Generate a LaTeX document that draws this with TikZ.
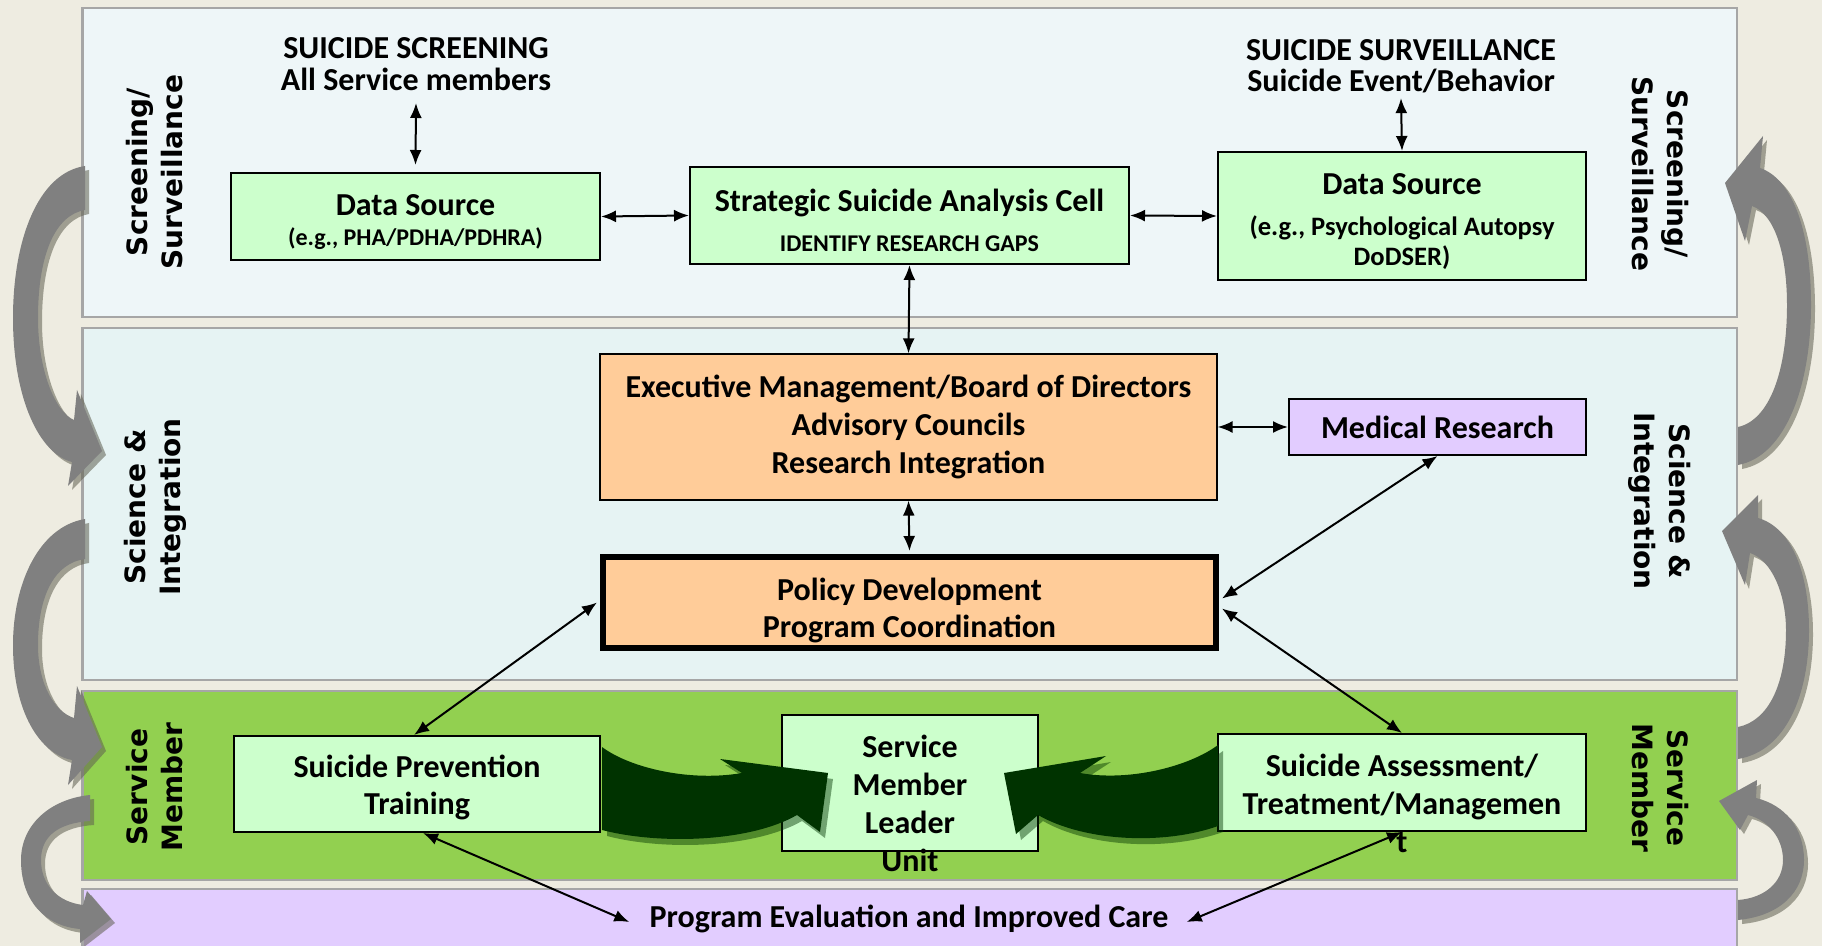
\documentclass[tikz,border=0pt]{standalone}
\usepackage{fontspec}
\setmainfont{Carlito}
\newfontfamily\sidefont{DejaVu Sans}
\usetikzlibrary{arrows.meta,calc}
\definecolor{bgc}{HTML}{EEECE1}
\definecolor{bandA}{HTML}{EEF6F8}
\definecolor{bandB}{HTML}{E6F3F3}
\definecolor{bandC}{HTML}{92D050}
\definecolor{bandD}{HTML}{E2CDFF}
\definecolor{bandline}{HTML}{A6A6A6}
\definecolor{boxgreen}{HTML}{CCFFCC}
\definecolor{boxorange}{HTML}{FFCC99}
\definecolor{boxpurple}{HTML}{E2CCFF}
\definecolor{darkgr}{HTML}{003300}
\definecolor{grayarr}{HTML}{808080}
\definecolor{grayshd}{HTML}{5F5F50}
\newcommand\tstrut[1]{\rule{0pt}{#1}}
\begin{document}
\begin{tikzpicture}[x=0.5pt,y=-0.5pt,
  every node/.style={font=\bfseries\fontsize{16}{19}\selectfont, inner sep=0pt},
  box/.style={draw=black, line width=1pt, align=center, inner sep=0pt},
  band/.style={draw=bandline, line width=1.2pt},
  dbl/.style={{Latex[length=7.5pt,width=6pt]}-{Latex[length=7.5pt,width=6pt]}, line width=1pt},
  side/.style={font=\sidefont\bfseries\fontsize{14}{17.5}\selectfont, align=center},
  grayarrow/.style={fill=grayarr},
  grayshadow/.style={fill=grayshd, fill opacity=0.55},
  greenarrow/.style={fill=darkgr},
  greenshadow/.style={fill=darkgr, fill opacity=0.45}
]
\useasboundingbox (0,0) rectangle (1822,946);
\clip (0,0) rectangle (1822,946);
\fill[bgc] (0,0) rectangle (1822,946);
% bands
\draw[band, fill=bandA] (82.5,8) rectangle (1737,317);
\draw[band, fill=bandB] (82.5,328) rectangle (1737,680);
\draw[band, fill=bandC] (82.5,691) rectangle (1737,880);
\draw[band, fill=bandD] (82.5,889) rectangle (1737,990);

% gray cycle arrows (shadow, then arrow)
\foreach \st/\sh in {grayshadow/4, grayarrow/0} {
\begin{scope}[shift={(\sh,\sh)}]
\path[\st] (85,166) .. controls (38,173) and (13,240) .. (13,318) .. controls (13,400) and (40,454) .. (72,462) -- (68,486) -- (102,451) -- (77,390) -- (74,420) .. controls (55,412) and (38,370) .. (38,318) .. controls (38,255) and (55,215) .. (85,210) -- cycle;
\path[\st] (85,519) .. controls (38,527) and (13,585) .. (13,645) .. controls (13,712) and (40,754) .. (72,760) -- (68,785) -- (102,747) -- (77,686) -- (74,718) .. controls (55,712) and (38,685) .. (38,645) .. controls (38,595) and (55,563) .. (85,559) -- cycle;
\path[\st] (90,795) .. controls (50,799) and (21,825) .. (21,860) .. controls (21,901) and (45,926) .. (80,929) -- (80,943) -- (111,919) -- (87,891) -- (83,905) .. controls (58,902) and (41,885) .. (41,860) .. controls (41,835) and (60,823) .. (90,821) -- cycle;
\path[\st] (1738,465) .. controls (1786,456) and (1811,385) .. (1811,305) .. controls (1811,225) and (1790,178) .. (1760,168) -- (1763,136) -- (1725,183) -- (1745,241) -- (1752,206) .. controls (1775,214) and (1787,255) .. (1787,305) .. controls (1787,370) and (1770,420) .. (1738,427) -- cycle;
\path[\st] (1738,759) .. controls (1786,751) and (1809,695) .. (1809,630) .. controls (1809,570) and (1790,527) .. (1758,518) -- (1758,495) -- (1722,531) -- (1745,585) -- (1750,553) .. controls (1772,560) and (1786,595) .. (1786,630) .. controls (1786,685) and (1768,721) .. (1738,727) -- cycle;
\path[\st] (1738,920) .. controls (1780,916) and (1804,892) .. (1804,860) .. controls (1804,828) and (1785,805) .. (1756,798) -- (1757,780) -- (1719,801) -- (1740,830) -- (1748,815) .. controls (1768,820) and (1783,838) .. (1783,860) .. controls (1783,882) and (1765,898) .. (1738,900) -- cycle;
\end{scope}
}

% side labels
\node[side, rotate=90] (lscr) at (155,172) {Screening/\\Surveillance};
\node[side, rotate=90] (lsci) at (155,507) {Science \&\\Integration};
\node[side, rotate=90] (lsm) at (155,787) {Service\\Member};
\node[side, rotate=-90] (rscr) at (1660,174) {Screening/\\Surveillance};
\node[side, rotate=-90] (rsci) at (1660,501) {Science \&\\Integration};
\node[side, rotate=-90] (rsm) at (1660,788) {Service\\Member};

% band 1
\node[align=center] (scrtext) at (416,64) {SUICIDE SCREENING\\[-3pt]All Service members};
\node[align=center] (survtext) at (1401,66) {SUICIDE SURVEILLANCE\\[-3.5pt]Suicide Event/Behavior};
\node[box, fill=boxgreen, minimum width=184.5pt, minimum height=43.5pt] (ds1) at (415.5,216.5)
  {\tstrut{16pt}Data Source\\[-4pt]{\fontsize{12}{14}\selectfont (e.g., PHA/PDHA/PDHRA)}};
\node[box, fill=boxgreen, minimum width=219.5pt, minimum height=48.5pt] (sac) at (909.5,215.5)
  {\tstrut{16pt}Strategic Suicide Analysis Cell\\[1pt]{\fontsize{12}{14}\selectfont IDENTIFY RESEARCH GAPS}};
\node[box, fill=boxgreen, minimum width=184pt, minimum height=64pt] (ds2) at (1402,216)
  {\tstrut{16pt}Data Source\\[1.5pt]{\fontsize{13.3}{15}\selectfont (e.g., Psychological Autopsy}\\[-4pt]{\fontsize{13.3}{15}\selectfont DoDSER)}};

% band 2
\node[box, fill=boxorange, line width=0.6pt, minimum width=308.5pt, minimum height=73pt] (exec) at (908.5,427)
  {Executive Management/Board of Directors\\Advisory Councils\\Research Integration};
\node[box, fill=boxpurple, minimum width=148.5pt, minimum height=28pt] (med) at (1437.5,427) {Medical Research};
\node[box, fill=boxorange, line width=3pt, minimum width=306.5pt, minimum height=45.5pt] (pol) at (909.5,602.5)
  {\tstrut{19.5pt}Policy Development\\[-0.5pt]Program Coordination};

% band 3
\node[box, fill=boxgreen, minimum width=183pt, minimum height=48pt] (spt) at (417,784)
  {\tstrut{15pt}Suicide Prevention\\[-0.5pt]Training};
\node[box, fill=boxgreen, minimum width=128pt, minimum height=68pt] (sml) at (910,783) {};
\node[box, fill=boxgreen, minimum width=184pt, minimum height=48.5pt] (sa) at (1402,782.5) {};

% band 4
\node (pe) at (909,919) {Program Evaluation and Improved Care};

% connectors
\draw[dbl] ($(scrtext.south)+(0,12)$) -- ($(ds1.north)+(0,-7)$);
\draw[dbl] ($(survtext.south)+(0,5)$) -- (ds2.north);
\draw[dbl] (ds1.east) -- (sac.west);
\draw[dbl] (sac.east) -- (ds2.west);
\draw[dbl] (sac.south) -- (exec.north);
\draw[dbl] (exec.east) -- (med.west);
\draw[dbl] (exec.south) -- ($(pol.north)+(0,-3)$);
\draw[dbl] ($(pol.east)+(3,-4)$) -- (med.south);
\draw[dbl] ($(pol.east)+(3,6)$) -- (sa.north);
\draw[dbl] ($(pol.west)+(-3,0)$) -- ($(spt.north)+(-3,0)$);
\draw[dbl] ($(spt.south)+(6,0)$) -- ($(pe.west)+(-20,3)$);
\draw[dbl] (sa.south) -- ($(pe.east)+(18,3)$);

% dark green block arrows
\begin{scope}[shift={(5,6)}]
\path[greenshadow] (602,747) .. controls (630,768) and (690,782) .. (742,773) -- (720,759) -- (828,773) -- (820,832) -- (797,815) .. controls (750,842) and (660,845) .. (602,830) -- cycle;
\path[greenshadow] (1218,745) .. controls (1190,766) and (1130,782) .. (1080,773) -- (1106,756) -- (1004,773) -- (1016,834) -- (1038,815) .. controls (1085,842) and (1165,845) .. (1218,826) -- cycle;
\end{scope}
\path[greenarrow] (602,747) .. controls (630,768) and (690,782) .. (742,773) -- (720,759) -- (828,773) -- (820,832) -- (797,815) .. controls (750,842) and (660,845) .. (602,830) -- cycle;
\path[greenarrow] (1218,745) .. controls (1190,766) and (1130,782) .. (1080,773) -- (1106,756) -- (1004,773) -- (1016,834) -- (1038,815) .. controls (1085,842) and (1165,845) .. (1218,826) -- cycle;

% overflowing texts
\node[align=center] (smltext) at (910,803) {Service\\Member\\Leader\\Unit};
\node[align=center] (satext) at (1402,803) {Suicide Assessment/\\Treatment/Managemen\\t};
\end{tikzpicture}
\end{document}
